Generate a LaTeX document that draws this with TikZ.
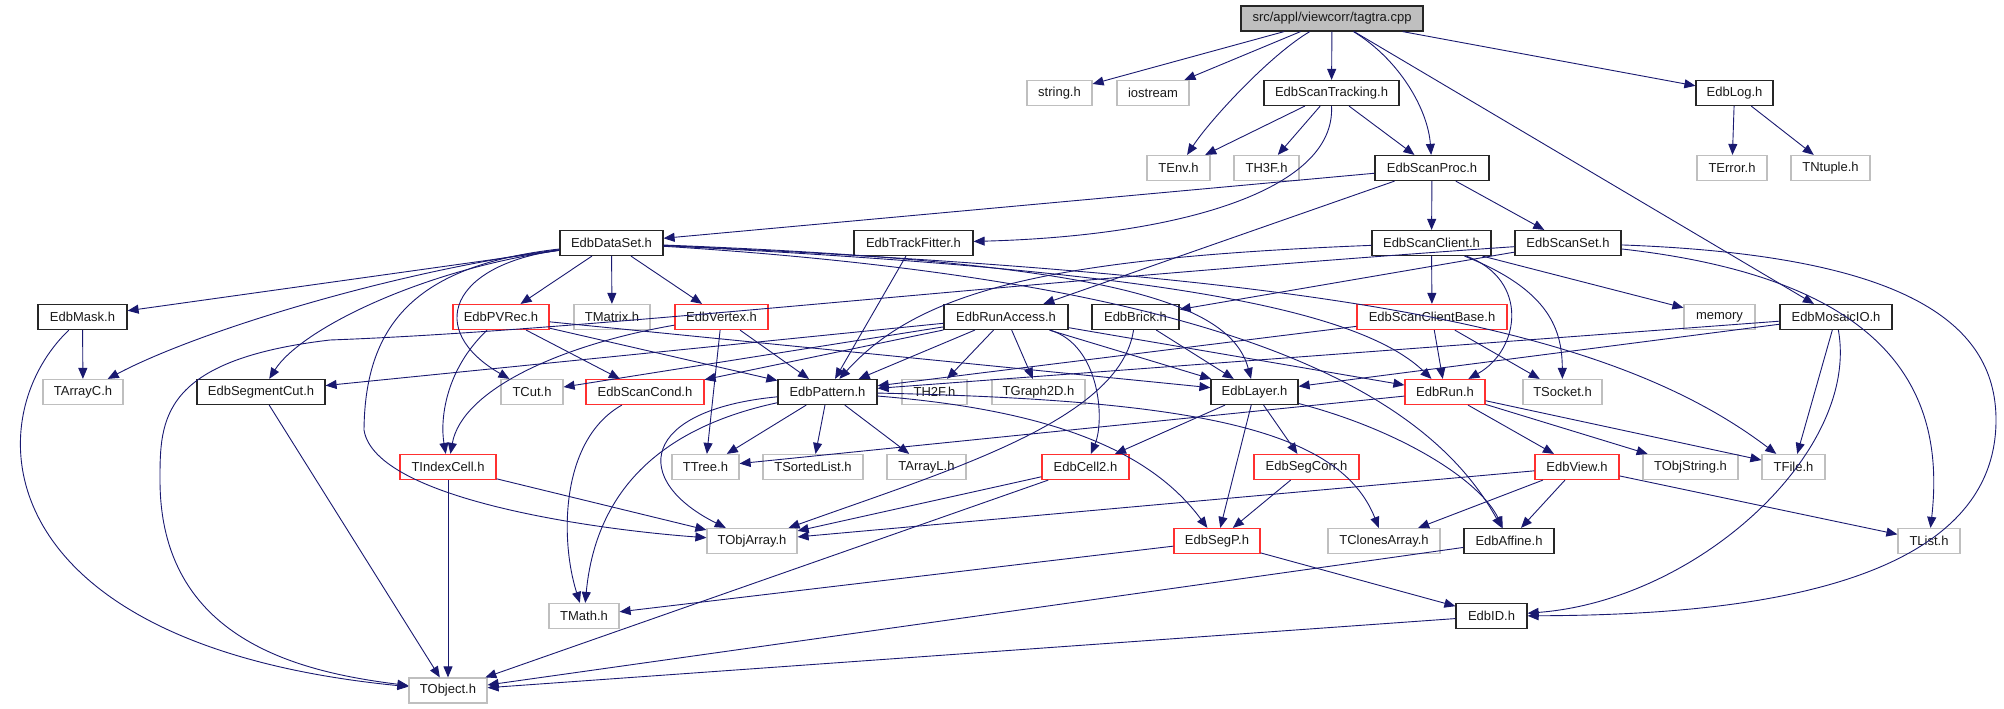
\documentclass[tikz,border=0pt]{standalone}
\usepackage{fontspec}
\setmainfont{Liberation Sans}
\usetikzlibrary{arrows.meta}
\definecolor{edgecol}{HTML}{191970}
\definecolor{greyb}{HTML}{BFBFBF}
\definecolor{redb}{HTML}{FF3030}
\tikzset{
  box/.style={rectangle, inner sep=0pt, minimum height=25pt, line width=1.2pt, font=\fontsize{13}{14}\selectfont, text=black!90},
  doc/.style={box, draw=black!85},
  grey/.style={box, draw=greyb},
  redn/.style={box, draw=redb},
  rootn/.style={box, draw=black!85, fill=greyb},
  e/.style={draw=edgecol, line width=0.9pt, -{Triangle[length=11pt,width=9pt]}}
}
\begin{document}
\begin{tikzpicture}[x=1pt,y=-1pt]
\useasboundingbox (0,0) rectangle (2004,709);
% row 0
\node[rootn, minimum width=182pt] (root) at (1332,18.5) {src/appl/viewcorr/tagtra.cpp};
% row 1
\node[grey, minimum width=65pt] (string) at (1059.5,93) {string.h};
\node[grey, minimum width=72pt] (iostream) at (1153,93) {iostream};
\node[doc, minimum width=135pt] (scantrack) at (1331.5,93) {EdbScanTracking.h};
\node[doc, minimum width=77pt] (edblog) at (1734.5,93) {EdbLog.h};
% row 2
\node[grey, minimum width=63pt] (tenv) at (1178.5,168) {TEnv.h};
\node[grey, minimum width=65pt] (th3f) at (1266.5,168) {TH3F.h};
\node[doc, minimum width=114pt] (scanproc) at (1432,168) {EdbScanProc.h};
\node[grey, minimum width=70pt] (terror) at (1732,168) {TError.h};
\node[grey, minimum width=79pt] (tntuple) at (1830.5,168) {TNtuple.h};
% row 3
\node[doc, minimum width=103pt] (dataset) at (611.5,243) {EdbDataSet.h};
\node[doc, minimum width=119pt] (trackfit) at (913.5,243) {EdbTrackFitter.h};
\node[doc, minimum width=119pt] (scanclient) at (1431.5,243) {EdbScanClient.h};
\node[doc, minimum width=106pt] (scanset) at (1568,243) {EdbScanSet.h};
% row 4
\node[doc, minimum width=89pt] (mask) at (82.5,317) {EdbMask.h};
\node[redn, minimum width=96pt] (pvrec) at (501,317) {EdbPVRec.h};
\node[grey, minimum width=76pt] (tmatrix) at (612,317) {TMatrix.h};
\node[redn, minimum width=93pt] (vertex) at (721.5,317) {EdbVertex.h};
\node[doc, minimum width=124pt] (runaccess) at (1006,317) {EdbRunAccess.h};
\node[doc, minimum width=87pt] (brick) at (1135.5,317) {EdbBrick.h};
\node[redn, minimum width=150pt] (scbase) at (1432,317) {EdbScanClientBase.h};
\node[grey, minimum width=71pt] (memory) at (1719.5,317) {memory};
\node[doc, minimum width=112pt] (mosaic) at (1836,317) {EdbMosaicIO.h};
% row 5
\node[grey, minimum width=80pt] (tarrayc) at (83,392) {TArrayC.h};
\node[doc, minimum width=128pt] (segcut) at (261,392) {EdbSegmentCut.h};
\node[grey, minimum width=62pt] (tcut) at (532,392) {TCut.h};
\node[redn, minimum width=118pt] (scancond) at (645,392) {EdbScanCond.h};
\node[doc, minimum width=99pt] (pattern) at (827.5,392) {EdbPattern.h};
\node[grey, minimum width=65pt] (th2f) at (934.5,392) {TH2F.h};
\node[grey, minimum width=93pt] (tgraph) at (1038.5,392) {TGraph2D.h};
\node[doc, minimum width=87pt] (layer) at (1254.5,392) {EdbLayer.h};
\node[redn, minimum width=80pt] (run) at (1445,392) {EdbRun.h};
\node[grey, minimum width=79pt] (tsocket) at (1562.5,392) {TSocket.h};
% row 6
\node[redn, minimum width=96pt] (tindex) at (448,467) {TIndexCell.h};
\node[grey, minimum width=67pt] (ttree) at (705.5,467) {TTree.h};
\node[grey, minimum width=100pt] (tsorted) at (813,467) {TSortedList.h};
\node[grey, minimum width=79pt] (tarrayl) at (926.5,467) {TArrayL.h};
\node[redn, minimum width=87pt] (cell2) at (1085.5,467) {EdbCell2.h};
\node[redn, minimum width=105pt] (segcorr) at (1306.5,467) {EdbSegCorr.h};
\node[redn, minimum width=84pt] (view) at (1577,467) {EdbView.h};
\node[grey, minimum width=95pt] (tobjstring) at (1690.5,467) {TObjString.h};
\node[grey, minimum width=63pt] (tfile) at (1793.5,467) {TFile.h};
% row 7
\node[grey, minimum width=90pt] (tobjarray) at (752,541) {TObjArray.h};
\node[redn, minimum width=86pt] (segp) at (1217,541) {EdbSegP.h};
\node[grey, minimum width=112pt] (tclones) at (1384,541) {TClonesArray.h};
\node[doc, minimum width=90pt] (affine) at (1509,541) {EdbAffine.h};
\node[grey, minimum width=62pt] (tlist) at (1929,541) {TList.h};
% row 8
\node[grey, minimum width=70pt] (tmath) at (584,616) {TMath.h};
\node[doc, minimum width=71pt] (edbid) at (1491.5,616) {EdbID.h};
% row 9
\node[grey, minimum width=78pt] (tobject) at (448,690.5) {TObject.h};

% ---- edges from root
\draw[e] (root) -- (string);
\draw[e] (root) -- (iostream);
\draw[e] (root) .. controls (1270,55) and (1210,120) .. (tenv);
\draw[e] (root) -- (scantrack);
\draw[e] (root) .. controls (1400,60) and (1428,110) .. (scanproc);
\draw[e] (root) -- (mosaic);
\draw[e] (root) -- (edblog);
% scantracking
\draw[e] (scantrack) -- (tenv);
\draw[e] (scantrack) -- (th3f);
\draw[e] (scantrack) -- (scanproc);
\draw[e] (scantrack.south) .. controls (1336,190) and (1180,236) .. (trackfit);
% edblog
\draw[e] (edblog) -- (terror);
\draw[e] (edblog) -- (tntuple);
% scanproc
\draw[e] (scanproc) -- (dataset);
\draw[e] (scanproc) -- (runaccess);
\draw[e] (scanproc) -- (scanclient);
\draw[e] (scanproc) -- (scanset);
% trackfitter
\draw[e] (trackfit) -- (pattern);
% dataset
\draw[e] (dataset) -- (mask);
\draw[e] (dataset) .. controls (400,270) and (200,330) .. (tarrayc);
\draw[e] (dataset) .. controls (420,270) and (300,330) .. (segcut);
\draw[e] (dataset) .. controls (450,265) and (425,330) .. (tcut);
\draw[e] (dataset) .. controls (420,265) and (365,320) .. (364,430) .. controls (375,500) and (600,530) .. (tobjarray);
\draw[e] (dataset) -- (pvrec);
\draw[e] (dataset) -- (tmatrix);
\draw[e] (dataset) -- (vertex);
\draw[e] (dataset) .. controls (1100,262) and (1230,300) .. (layer);
\draw[e] (dataset) .. controls (1100,268) and (1350,300) .. (run);
\draw[e] (dataset) .. controls (1300,275) and (1600,320) .. (tfile);
\draw[e] (dataset) .. controls (1200,280) and (1420,380) .. (affine);
% mask
\draw[e] (mask) -- (tarrayc);
\draw[e] (mask) .. controls (-25,420) and (-15,645) .. (tobject);
% pvrec
\draw[e] (pvrec) .. controls (445,370) and (440,420) .. (tindex);
\draw[e] (pvrec) -- (scancond);
\draw[e] (pvrec) -- (pattern);
\draw[e] (pvrec) -- (layer);
% vertex
\draw[e] (vertex) .. controls (560,345) and (462,390) .. (tindex);
\draw[e] (vertex) -- (ttree);
\draw[e] (vertex) -- (pattern);
% runaccess
\draw[e] (runaccess) -- (segcut);
\draw[e] (runaccess) -- (tcut);
\draw[e] (runaccess) -- (scancond);
\draw[e] (runaccess) -- (pattern);
\draw[e] (runaccess) -- (th2f);
\draw[e] (runaccess) -- (tgraph);
\draw[e] (runaccess) .. controls (1100,345) and (1105,420) .. (cell2);
\draw[e] (runaccess) -- (layer);
\draw[e] (runaccess) -- (run);
% brick
\draw[e] (brick) -- (layer);
\draw[e] (brick) .. controls (1120,420) and (950,470) .. (tobjarray);
% scanclient
\draw[e] (scanclient) .. controls (1050,258) and (920,290) .. (pattern);
\draw[e] (scanclient) -- (scbase);
\draw[e] (scanclient) -- (memory);
\draw[e] (scanclient) .. controls (1530,280) and (1520,350) .. (run);
\draw[e] (scanclient) .. controls (1550,290) and (1562,330) .. (tsocket);
% scanset
\draw[e] (scanset) -- (brick);
\draw[e] (scanset) .. controls (1000,282) and (600,330) .. (330,340) .. controls (160,360) and (160,420) .. (160,480) .. controls (160,640) and (300,672) .. (tobject);
\draw[e] (scanset) .. controls (1900,280) and (1945,400) .. (tlist);
\draw[e] (scanset) .. controls (1900,255) and (1996,320) .. (1996,420) .. controls (1996,600) and (1700,615) .. (edbid);
% scbase
\draw[e] (scbase) -- (pattern);
\draw[e] (scbase) -- (run);
\draw[e] (scbase) -- (tsocket);
% mosaic
\draw[e] (mosaic) -- (layer);
\draw[e] (mosaic) -- (pattern);
\draw[e] (mosaic) -- (tfile);
\draw[e] (mosaic) .. controls (1860,450) and (1700,600) .. (edbid);
% pattern
\draw[e] (pattern) -- (ttree);
\draw[e] (pattern) -- (tsorted);
\draw[e] (pattern) -- (tarrayl);
\draw[e] (pattern) .. controls (640,410) and (630,480) .. (tobjarray);
\draw[e] (pattern) .. controls (650,430) and (595,500) .. (tmath);
\draw[e] (pattern) .. controls (1050,410) and (1150,450) .. (segp);
\draw[e] (pattern) .. controls (1200,400) and (1340,430) .. (tclones);
% layer
\draw[e] (layer) -- (cell2);
\draw[e] (layer) -- (segp);
\draw[e] (layer) -- (segcorr);
\draw[e] (layer) .. controls (1400,430) and (1480,480) .. (affine);
% segcorr
\draw[e] (segcorr) -- (segp);
% run
\draw[e] (run) -- (ttree);
\draw[e] (run) -- (view);
\draw[e] (run) -- (tobjstring);
\draw[e] (run) -- (tfile);
% view
\draw[e] (view) -- (tobjarray);
\draw[e] (view) -- (tclones);
\draw[e] (view) -- (affine);
\draw[e] (view) -- (tlist);
% cell2
\draw[e] (cell2) -- (tobjarray);
\draw[e] (cell2) -- (tobject);
% tindex
\draw[e] (tindex) -- (tobject);
\draw[e] (tindex) -- (tobjarray);
% segcut
\draw[e] (segcut) -- (tobject);
% scancond
\draw[e] (scancond) .. controls (560,440) and (560,540) .. (tmath);
% segp
\draw[e] (segp) -- (tmath);
\draw[e] (segp) -- (edbid);
% affine, edbid
\draw[e] (affine) -- (tobject);
\draw[e] (edbid) -- (tobject);
\end{tikzpicture}
\end{document}
